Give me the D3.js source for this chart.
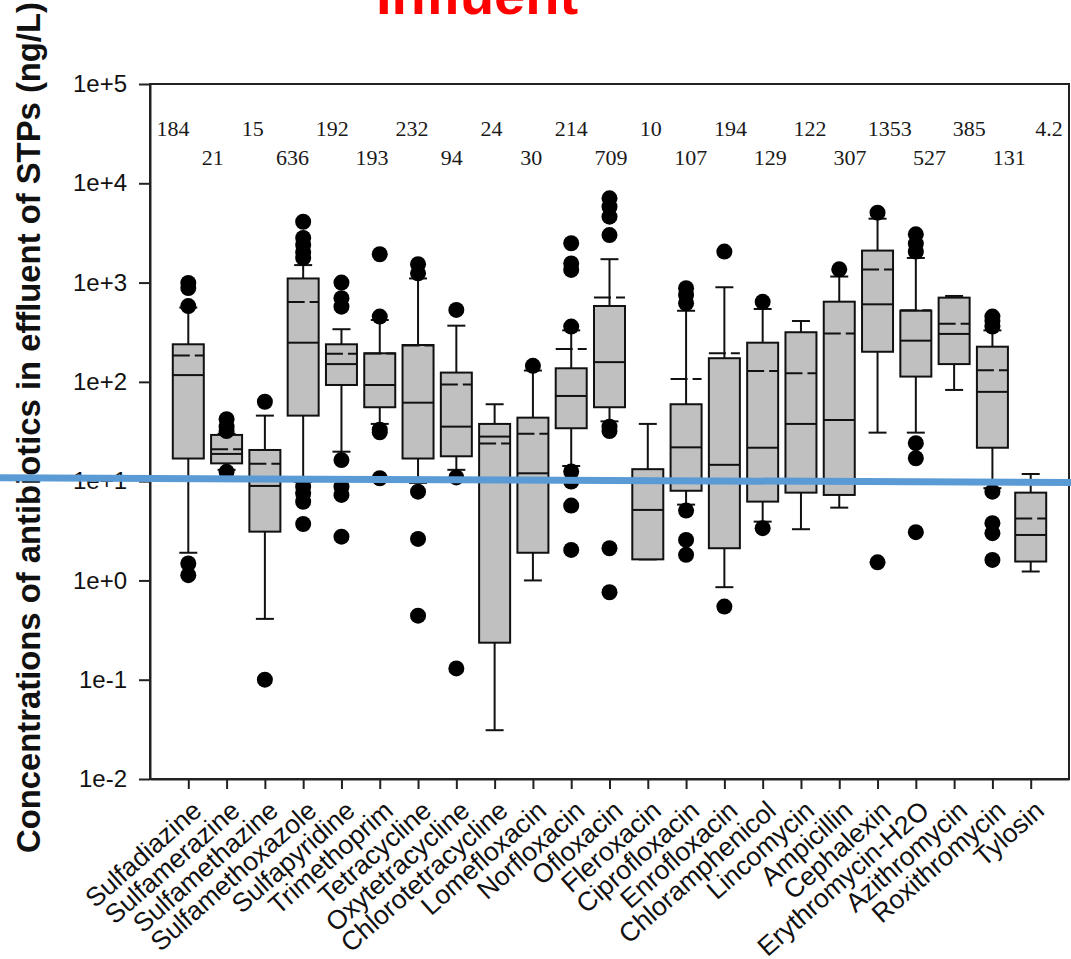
<!DOCTYPE html>
<html>
<head>
<meta charset="utf-8">
<script src="https://cdn.jsdelivr.net/npm/d3@7"></script>
<style>
  html, body { margin: 0; padding: 0; background: #fff; }
  svg { display: block; }
</style>
</head>
<body>
<script>
// ---------------- DATA ----------------
const categories = ["Sulfadiazine","Sulfamerazine","Sulfamethazine","Sulfamethoxazole","Sulfapyridine",
  "Trimethoprim","Tetracycline","Oxytetracycline","Chlorotetracycline","Lomefloxacin","Norfloxacin",
  "Ofloxacin","Fleroxacin","Ciprofloxacin","Enrofloxacin","Chloramphenicol","Lincomycin","Ampicillin",
  "Cephalexin","Erythromycin-H2O","Azithromycin","Roxithromycin","Tylosin"];

const meanLabels = ["184","21","15","636","192","193","232","94","24","30","214","709","10","107",
  "194","129","122","307","1353","527","385","131","4.2"];
const means = [184,21,15,636,192,193,232,94,24,30,214,709,10,107,194,129,122,307,1353,527,385,131,4.2];

const whiskerLow  = [1.9, 13, 0.41, 9.8, 19.8, 37.7, 9.6, 13, 0.031, 1.0, 14.2, 40, 1.63, 5.8, 0.855, 3.91, 3.28, 5.41, 30.8, 30.8, 82.9, 8.5, 1.23];
const q1          = [16.9, 15.1, 3.1, 45.7, 93, 55.5, 16.9, 17.8, 0.236, 1.9, 34.1, 55.5, 1.63, 8.0, 2.11, 6.22, 7.66, 7.26, 201, 113, 151, 21.7, 1.55];
const medians     = [117, 18.8, 8.95, 248, 151, 93, 61.7, 35.4, 28.1, 12.0, 72.1, 158, 5.13, 21.9, 14.6, 21.7, 37.7, 41.3, 604, 260, 304, 79.3, 2.87];
const q3          = [239, 29.2, 20.6, 1100, 239, 194, 235, 124, 37.7, 43.6, 137, 581, 13.2, 59.5, 173, 248, 316, 642, 2100, 521, 705, 226, 7.66];
const whiskerHigh = [560, 30, 45.7, 1500, 339, 420, 1100, 368, 59.5, 130, 330, 1720, 37.7, 520, 897, 542, 410, 1150, 4400, 1770, 733, 330, 11.8];
const outliers = [
  [990, 880, 580, 1.48, 1.13],
  [42, 35.4, 32, 12.4],
  [63, 0.1],
  [4100, 2810, 2390, 2030, 1770, 8.8, 7.5, 6.2, 3.7],
  [1000, 695, 572, 16.3, 8.8, 7.26, 2.76],
  [1930, 454, 33, 31, 10.7],
  [1530, 1240, 7.84, 2.62, 0.442],
  [530, 10.9, 0.13],
  [],
  [145],
  [2490, 1560, 1340, 360, 12.5, 9.9, 5.67, 2.03],
  [7060, 5800, 4610, 3010, 35.4, 32, 2.11, 0.76],
  [],
  [877, 750, 619, 5.05, 2.56, 1.81],
  [2050, 0.545],
  [640, 3.36],
  [],
  [1360],
  [5060, 1.52],
  [3060, 2470, 2050, 24.1, 17, 3.06],
  [],
  [454, 410, 360, 7.84, 3.77, 2.99, 1.61],
  []
];

const yTickValues = [1e-2, 1e-1, 1, 10, 100, 1000, 1e4, 1e5];
const yTickLabels = ["1e-2","1e-1","1e+0","1e+1","1e+2","1e+3","1e+4","1e+5"];
const thresholdEnds = [10.8, 9.7];   // reference line value at left / right page edge

const titleText = "Influent";
const yTitle = "Concentrations of antibiotics in effluent of STPs (ng/L)";

// ---------------- LAYOUT ----------------
const W = 1071, H = 959;
const plot = { left: 150, right: 1069, top: 84, bottom: 779 };

const svg = d3.select("body").append("svg").attr("width", W).attr("height", H);

const x = d3.scalePoint().domain(categories).range([plot.left, plot.right]).padding(1);
const y = d3.scaleLog().domain([1e-2, 1e5]).range([plot.bottom, plot.top]);
const annotX = d3.scalePoint().domain(categories).range([173, 1049]);

// title (cut at top of page)
svg.append("text")
  .attr("x", 477).attr("y", 13.5)
  .attr("text-anchor", "middle")
  .attr("font-family", "Liberation Sans, Arial, sans-serif")
  .attr("font-weight", "bold")
  .attr("font-size", 56)
  .attr("fill", "#ff0000")
  .text(titleText);

// y title
svg.append("text")
  .attr("transform", `translate(40,${(853 + 2) / 2}) rotate(-90)`)
  .attr("text-anchor", "middle")
  .attr("font-family", "Liberation Sans, Arial, sans-serif")
  .attr("font-weight", "bold")
  .attr("font-size", 32.8)
  .attr("fill", "#111")
  .text(yTitle);

// frame
svg.append("rect")
  .attr("x", plot.left).attr("y", plot.top)
  .attr("width", plot.right - plot.left).attr("height", plot.bottom - plot.top)
  .attr("fill", "none").attr("stroke", "#222").attr("stroke-width", 2);

// y axis
const yAxis = svg.append("g")
  .attr("transform", `translate(${plot.left},0)`)
  .call(d3.axisLeft(y).tickValues(yTickValues)
    .tickFormat((d, i) => yTickLabels[i]).tickSize(11).tickSizeOuter(0).tickPadding(12));
yAxis.select(".domain").attr("stroke", "#222").attr("stroke-width", 2);
yAxis.selectAll(".tick line").attr("stroke", "#222").attr("stroke-width", 2);
yAxis.selectAll(".tick text")
  .attr("font-family", "Liberation Sans, Arial, sans-serif")
  .attr("font-size", 24).attr("fill", "#111");

// x axis
const xAxis = svg.append("g")
  .attr("transform", `translate(0,${plot.bottom})`)
  .call(d3.axisBottom(x).tickSize(10).tickSizeOuter(0).tickFormat(""));
xAxis.select(".domain").attr("stroke", "#222").attr("stroke-width", 2);
xAxis.selectAll(".tick line").attr("stroke", "#222").attr("stroke-width", 2);

svg.append("g").selectAll("text")
  .data(categories).join("text")
  .attr("transform", d => `translate(${x(d) + 15},813) rotate(-41.5)`)
  .attr("text-anchor", "end")
  .attr("font-family", "Liberation Sans, Arial, sans-serif")
  .attr("font-size", 26.5)
  .attr("fill", "#111")
  .text(d => d);

// mean annotations
svg.append("g").selectAll("text")
  .data(categories).join("text")
  .attr("x", d => annotX(d))
  .attr("y", (d, i) => i % 2 === 0 ? 136 : 164.5)
  .attr("text-anchor", "middle")
  .attr("font-family", "Liberation Serif, Times New Roman, serif")
  .attr("font-size", 22)
  .attr("fill", "#1a1a1a")
  .text((d, i) => meanLabels[i]);

// boxes
const boxHalf = 15.5, capHalf = 9;
const g = svg.append("g");
categories.forEach((c, i) => {
  const cx = x(c);
  const gg = g.append("g");
  // whiskers
  gg.append("line").attr("x1", cx).attr("x2", cx)
    .attr("y1", y(whiskerLow[i])).attr("y2", y(q1[i]))
    .attr("stroke", "#111").attr("stroke-width", 2);
  gg.append("line").attr("x1", cx).attr("x2", cx)
    .attr("y1", y(q3[i])).attr("y2", y(whiskerHigh[i]))
    .attr("stroke", "#111").attr("stroke-width", 2);
  [whiskerLow[i], whiskerHigh[i]].forEach(v => {
    gg.append("line").attr("x1", cx - capHalf).attr("x2", cx + capHalf)
      .attr("y1", y(v)).attr("y2", y(v))
      .attr("stroke", "#111").attr("stroke-width", 2);
  });
  // box
  gg.append("rect")
    .attr("x", cx - boxHalf).attr("width", boxHalf * 2)
    .attr("y", y(q3[i])).attr("height", Math.max(0.5, y(q1[i]) - y(q3[i])))
    .attr("fill", "#c0c0c0").attr("stroke", "#111").attr("stroke-width", 2);
  // median
  gg.append("line").attr("x1", cx - boxHalf).attr("x2", cx + boxHalf)
    .attr("y1", y(medians[i])).attr("y2", y(medians[i]))
    .attr("stroke", "#111").attr("stroke-width", 2);
  // mean (dashed)
  gg.append("line").attr("x1", cx - boxHalf).attr("x2", cx + boxHalf)
    .attr("y1", y(means[i])).attr("y2", y(means[i]))
    .attr("stroke", "#111").attr("stroke-width", 2)
    .attr("stroke-dasharray", "17,5");
  // outliers
  gg.selectAll("circle").data(outliers[i]).join("circle")
    .attr("cx", cx).attr("cy", d => y(d)).attr("r", 8)
    .attr("fill", "#000");
});

// blue reference line (drawn over everything, spans whole page)
const lx = d3.scaleLinear().domain([0, 1]).range([0, W]);
svg.append("line")
  .attr("x1", lx(0)).attr("x2", lx(1))
  .attr("y1", y(thresholdEnds[0])).attr("y2", y(thresholdEnds[1]))
  .attr("stroke", "#5b9bd5").attr("stroke-width", 7);
</script>
</body>
</html>
